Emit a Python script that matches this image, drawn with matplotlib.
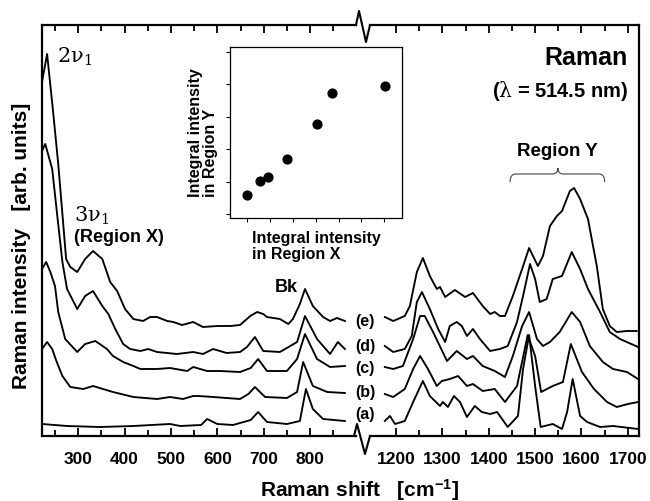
import matplotlib
matplotlib.use('Agg')
import matplotlib.pyplot as plt
from matplotlib.lines import Line2D
from matplotlib.path import Path
from matplotlib.patches import PathPatch
from matplotlib.ticker import FixedLocator

plt.rcParams['font.family'] = ['Liberation Sans', 'DejaVu Sans']
plt.rcParams['font.weight'] = 'bold'
plt.rcParams['mathtext.fontset'] = 'custom'
plt.rcParams['mathtext.rm'] = 'DejaVu Serif:weight=normal'
plt.rcParams['mathtext.it'] = 'DejaVu Serif:italic:weight=normal'
plt.rcParams['mathtext.bf'] = 'Liberation Sans:weight=bold'

# ---------------- data (Raman shift in cm-1, intensity in arb. units) ----------------
# left segment (222-900 cm-1)
x_e_L = [222,233,246,257,266,274,283,298,315,332,352,369,384,401,419,440,455,470,492,505,
         524,548,569,600,628,649,671,686,699,707,735,753,763,778,789,806,828,843,858,875]
y_e_L = [354,382,324,272,222,177,169,164,177,185,177,154,145,127,117,115,119,119,115,114,
         111,114,109,110,110,111,120,124,122,119,117,112,117,132,147,130,119,115,118,115]
x_d_L = [222,229,244,255,266,276,298,315,332,352,365,380,397,412,434,451,470,513,548,569,
         591,620,649,664,681,699,735,772,789,815,843,860,875]
y_d_L = [285,292,267,220,174,147,127,140,145,130,122,107,92,87,85,87,84,82,84,82,
         87,83,84,89,99,85,84,94,120,97,82,94,87]
x_c_L = [222,231,240,250,257,272,298,315,337,362,375,397,419,434,470,498,535,548,578,606,
         649,672,688,707,750,772,789,815,843,875]
y_c_L = [167,174,164,150,124,97,84,92,95,87,80,74,70,67,67,68,65,69,65,65,
         64,68,77,65,65,77,102,77,69,70]
x_b_L = [222,233,244,253,266,283,311,332,375,419,470,498,526,548,559,591,649,667,681,703,
         750,772,785,806,837,875]
y_b_L = [87,94,87,75,60,49,47,50,44,39,37,39,37,40,40,39,37,42,49,39,
         38,44,74,50,44,43]
x_a_L = [222,276,347,419,498,520,565,578,600,634,649,672,688,707,750,778,791,806,828,875]
y_a_L = [12,10,9,10,12,10,11,17,12,11,13,16,24,14,12,15,47,27,17,15]

# right segment (1144-1724 cm-1)
x_e_R = [1176,1194,1219,1230,1245,1258,1273,1288,1295,1306,1327,1349,1366,1387,1403,1413,1424,1435,1452,1472,
         1487,1506,1517,1532,1547,1558,1575,1584,1597,1614,1633,1646,1661,1676,1698,1719]
y_e_R = [119,115,120,130,164,178,160,147,149,139,146,139,143,130,122,124,120,120,140,167,
         188,170,180,210,220,225,245,248,237,217,170,127,110,104,105,105]
x_d_R = [1176,1194,1219,1234,1245,1256,1273,1291,1306,1316,1331,1342,1353,1366,1381,1403,1424,1441,1461,1474,
         1489,1500,1510,1525,1538,1558,1579,1597,1614,1640,1661,1683,1722]
y_d_R = [90,84,87,100,134,144,127,107,94,110,114,110,100,107,97,85,87,90,114,140,
         172,157,134,137,157,160,184,167,147,124,104,97,89]
x_c_R = [1176,1194,1215,1237,1252,1262,1280,1310,1331,1353,1366,1387,1413,1435,1452,1472,1487,1504,1517,1532,
         1553,1579,1597,1618,1646,1668,1698,1722]
y_c_R = [69,67,70,97,120,120,104,75,85,77,80,70,65,59,80,110,124,97,90,94,
         104,124,114,90,74,67,64,57]
x_b_R = [1176,1194,1219,1237,1252,1269,1288,1299,1316,1334,1353,1366,1387,1413,1435,1461,1484,1500,1513,1538,
         1560,1577,1601,1627,1655,1676,1700,1722]
y_b_R = [42,39,47,67,80,67,50,55,57,60,50,52,45,47,34,50,101,80,44,50,
         54,92,64,47,34,29,32,34]
x_a_R = [1176,1187,1198,1219,1237,1258,1273,1295,1301,1312,1325,1338,1353,1370,1385,1403,1418,1441,1463,1474,
         1487,1500,1512,1538,1558,1569,1581,1597,1612,1640,1668,1722]
y_a_R = [15,20,12,15,34,55,40,30,34,29,40,34,19,30,24,22,24,9,20,67,
         101,50,9,12,7,24,57,20,14,9,10,7]

trace_labels = ['(e)', '(d)', '(c)', '(b)', '(a)']
left_ticks = [300, 400, 500, 600, 700, 800]
right_ticks = [1200, 1300, 1400, 1500, 1600, 1700]

# inset: integral intensity region X vs region Y
inset_x = [0.0, 0.57, 0.92, 1.75, 3.06, 3.71, 6.03]
inset_y = [0.59, 1.02, 1.14, 1.70, 2.78, 3.73, 3.95]

# ---------------- figure ----------------
W, H = 650, 502
fig = plt.figure(figsize=(6.5, 5.02), dpi=100)

def fx(px):
    return px / W

def fy(py):
    return 1 - py / H

top_px, bot_px = 26, 437
axL = fig.add_axes([fx(42), fy(bot_px), (356 - 42) / W, (bot_px - top_px) / H])
axR = fig.add_axes([fx(370), fy(bot_px), (639 - 370) / W, (bot_px - top_px) / H])

lw = 1.35
for xs, ys in [(x_a_L, y_a_L), (x_b_L, y_b_L), (x_c_L, y_c_L), (x_d_L, y_d_L), (x_e_L, y_e_L)]:
    axL.plot(xs, ys, color='black', lw=lw, solid_joinstyle='round')
for xs, ys in [(x_a_R, y_a_R), (x_b_R, y_b_R), (x_c_R, y_c_R), (x_d_R, y_d_R), (x_e_R, y_e_R)]:
    axR.plot(xs, ys, color='black', lw=lw, solid_joinstyle='round')

axL.set_xlim(222, 899)
axR.set_xlim(1144, 1724)
for ax in (axL, axR):
    ax.set_ylim(0, 411)
    ax.set_yticks([])
    for s in ax.spines.values():
        s.set_linewidth(1.6)
    ax.tick_params(axis='x', which='both', direction='in', top=True, bottom=True,
                   width=1.3, labelsize=12.5, pad=11)
    ax.tick_params(axis='x', which='major', length=5.5)
    ax.tick_params(axis='x', which='minor', length=4.5)

axL.spines['right'].set_visible(False)
axR.spines['left'].set_visible(False)
axL.xaxis.set_major_locator(FixedLocator(left_ticks))
axL.xaxis.set_minor_locator(FixedLocator([250, 350, 450, 550, 650, 750, 850]))
axR.xaxis.set_major_locator(FixedLocator(right_ticks))
axR.xaxis.set_minor_locator(FixedLocator([1250, 1350, 1450, 1550, 1650]))

# break zigzags
zig_top = [(356, 26), (359, 12), (366, 43), (370, 26)]
zig_bot = [(354, 437), (357, 425), (365, 455), (370, 437)]
for zz in (zig_top, zig_bot):
    fig.add_artist(Line2D([fx(p[0]) for p in zz], [fy(p[1]) for p in zz],
                          transform=fig.transFigure, color='black', lw=1.5))

# annotations
axL.text(255, 380, r'$\mathrm{2\nu_1}$', fontsize=15, fontweight='normal',
         ha='left', va='center')
axL.text(291, 221, r'$\mathrm{3\nu_1}$', fontsize=15, fontweight='normal',
         ha='left', va='center')
axL.text(290, 199, '(Region X)', fontsize=13, ha='left', va='center')
axL.text(748, 149, 'Bk', fontsize=13, ha='center', va='center')

for lab, py in zip(trace_labels, [322, 347, 368, 393, 415]):
    fig.text(fx(365), fy(py), lab, fontsize=11.5, ha='center', va='center')

fig.text(fx(628), fy(58), 'Raman', fontsize=18, ha='right', va='center')
fig.text(fx(628), fy(91), r'($\mathrm{\lambda}$ = 514.5 nm)', fontsize=14.5,
         ha='right', va='center')
axR.text(1549, 286, 'Region Y', fontsize=13.5, ha='center', va='center')

# brace above region Y
verts = [(1446, 254), (1446, 262), (1458, 262), (1537, 262), (1549, 262), (1549, 268),
         (1549, 262), (1561, 262), (1638, 262), (1650, 262), (1650, 254)]
codes = [Path.MOVETO, Path.CURVE3, Path.CURVE3, Path.LINETO, Path.CURVE3, Path.CURVE3,
         Path.CURVE3, Path.CURVE3, Path.LINETO, Path.CURVE3, Path.CURVE3]
axR.add_patch(PathPatch(Path(verts, codes), fill=False, lw=0.8, edgecolor='#444444',
                        clip_on=False))

fig.text(fx(360), fy(490), r'Raman shift   [cm$^{\mathbf{-1}}$]', fontsize=15,
         ha='center', va='center')
fig.text(fx(22), fy(246), 'Raman intensity   [arb. units]', fontsize=15,
         rotation=90, ha='center', va='center')

# inset
axI = fig.add_axes([fx(230), fy(219), (402 - 230) / W, (219 - 48) / H])
axI.scatter(inset_x, inset_y, s=40, color='black', zorder=3)
axI.set_xlim(-0.74, 6.77)
axI.set_ylim(-0.12, 5.15)
axI.set_xticks(range(0, 7))
axI.set_yticks(range(0, 6))
axI.tick_params(direction='out', length=3, width=0.8, labelbottom=False, labelleft=False)
for s in axI.spines.values():
    s.set_linewidth(0.9)

fig.text(fx(203), fy(197), 'Integral intensity\nin Region Y', fontsize=11.5, rotation=90,
         ha='center', va='bottom', multialignment='left', linespacing=1.05)
fig.text(fx(252), fy(231), 'Integral intensity\nin Region X', fontsize=11.5,
         ha='left', va='top', multialignment='left', linespacing=1.05)

fig.savefig('out.png', dpi=100)
